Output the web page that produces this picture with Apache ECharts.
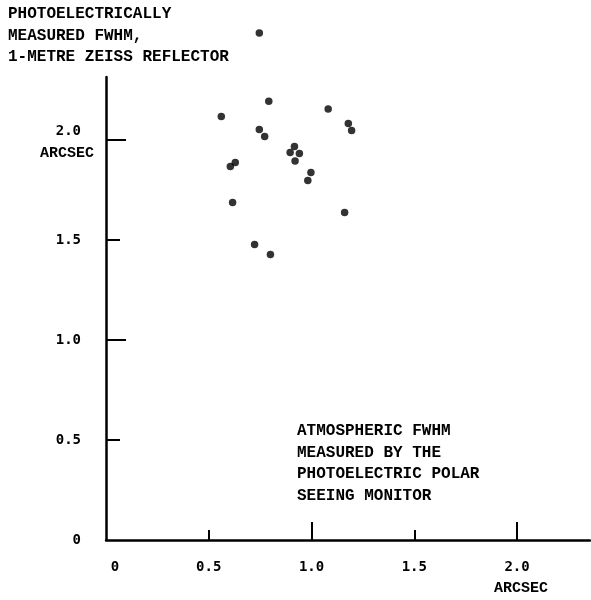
<!DOCTYPE html>
<html>
<head>
<meta charset="utf-8">
<script src="https://cdn.jsdelivr.net/npm/echarts@6/dist/echarts.min.js"></script>
<style>
  html, body { margin: 0; padding: 0; background: #fff; }
  #chart { width: 591px; height: 600px; }
</style>
</head>
<body>
<div id="chart"></div>
<script>
// Seeing monitor FWHM (x) against telescope FWHM (y), both in arcsec
const monitorFwhm = [0.746, 0.792, 0.561, 1.081, 1.179, 1.195, 0.746, 0.772, 0.917, 0.896,
                     0.941, 0.920, 0.629, 0.605, 0.997, 0.982, 0.616, 1.161, 0.723, 0.800];
const telescopeFwhm = [2.535, 2.194, 2.117, 2.155, 2.083, 2.047, 2.053, 2.018, 1.967, 1.937,
                       1.933, 1.895, 1.888, 1.868, 1.838, 1.797, 1.688, 1.637, 1.477, 1.428];

const xLabelValues = [0, 0.5, 1.0, 1.5, 2.0];
const yLabelValues = [0, 0.5, 1.0, 1.5, 2.0];
const xMinorTicks = [0.5, 1.5];
const xMajorTicks = [1.0, 2.0];
const yMinorTicks = [0.5, 1.5];
const yMajorTicks = [1.0, 2.0];

const yTitleLines = ['PHOTOELECTRICALLY', 'MEASURED FWHM,', '1-METRE ZEISS REFLECTOR'];
const xTitleLines = ['ATMOSPHERIC FWHM', 'MEASURED BY THE', 'PHOTOELECTRIC POLAR', 'SEEING MONITOR'];
const unitText = 'ARCSEC';

const points = monitorFwhm.map((x, i) => [x, telescopeFwhm[i]]);

const numFont = { fontFamily: 'DejaVu Sans Mono', fontWeight: 'bold', fontSize: 14, color: '#000' };
const typeFont = { fontFamily: 'Liberation Mono', fontWeight: 'bold', fontSize: 16, fill: '#000' };
const lineStyle = { color: '#000', width: 2.5 };

function fmt(v) {
  return v === 0 ? '0' : v.toFixed(1);
}

const graphics = [];
yTitleLines.forEach((t, i) => {
  graphics.push({ type: 'text', left: 8, top: 6 + i * 21.5,
    style: Object.assign({ text: t }, typeFont) });
});
xTitleLines.forEach((t, i) => {
  graphics.push({ type: 'text', left: 297, top: 423 + i * 21.7,
    style: Object.assign({ text: t }, typeFont) });
});
graphics.push({ type: 'text', x: 67, y: 153,
  style: Object.assign({ text: unitText, align: 'center', verticalAlign: 'middle' }, typeFont, { fontSize: 15 }) });
graphics.push({ type: 'text', x: 521, y: 588,
  style: Object.assign({ text: unitText, align: 'center', verticalAlign: 'middle' }, typeFont, { fontSize: 15 }) });

const chart = echarts.init(document.getElementById('chart'), null, { renderer: 'canvas' });
chart.setOption({
  animation: false,
  backgroundColor: '#fff',
  grid: { left: 106, right: 1, top: 77, bottom: 60, containLabel: false },
  xAxis: [
    {
      type: 'value', min: 0, max: 2.355, position: 'bottom',
      splitLine: { show: false },
      axisLine: { show: true, onZero: false, lineStyle: lineStyle },
      axisTick: { show: true, inside: true, length: 10, customValues: xMinorTicks,
                  lineStyle: { color: '#000', width: 2 } },
      axisLabel: Object.assign({
        customValues: xLabelValues, margin: 20,
        formatter: v => v === 0 ? '{zero|0}' : fmt(v),
        rich: { zero: Object.assign({ padding: [0, 0, 0, 18] }, numFont) }
      }, numFont)
    },
    {
      type: 'value', min: 0, max: 2.355, position: 'bottom',
      splitLine: { show: false },
      axisLine: { show: false, onZero: false },
      axisTick: { show: true, inside: true, length: 18, customValues: xMajorTicks,
                  lineStyle: { color: '#000', width: 2 } },
      axisLabel: { show: false }
    }
  ],
  yAxis: [
    {
      type: 'value', min: 0, max: 2.315, position: 'left',
      splitLine: { show: false },
      axisLine: { show: true, onZero: false, lineStyle: lineStyle },
      axisTick: { show: true, inside: true, length: 14, customValues: yMinorTicks,
                  lineStyle: { color: '#000', width: 2 } },
      axisLabel: Object.assign({
        customValues: yLabelValues, margin: 25,
        formatter: v => v === 2 ? '{up|2.0}' : fmt(v),
        rich: { up: Object.assign({ padding: [0, 0, 17, 0] }, numFont) }
      }, numFont)
    },
    {
      type: 'value', min: 0, max: 2.315, position: 'left',
      splitLine: { show: false },
      axisLine: { show: false, onZero: false },
      axisTick: { show: true, inside: true, length: 20, customValues: yMajorTicks,
                  lineStyle: { color: '#000', width: 2 } },
      axisLabel: { show: false }
    }
  ],
  series: [{
    type: 'scatter',
    xAxisIndex: 0, yAxisIndex: 0,
    clip: false,
    symbol: 'circle', symbolSize: 7.5,
    itemStyle: { color: '#000' },
    data: points
  }],
  graphic: graphics
});
</script>
</body>
</html>
